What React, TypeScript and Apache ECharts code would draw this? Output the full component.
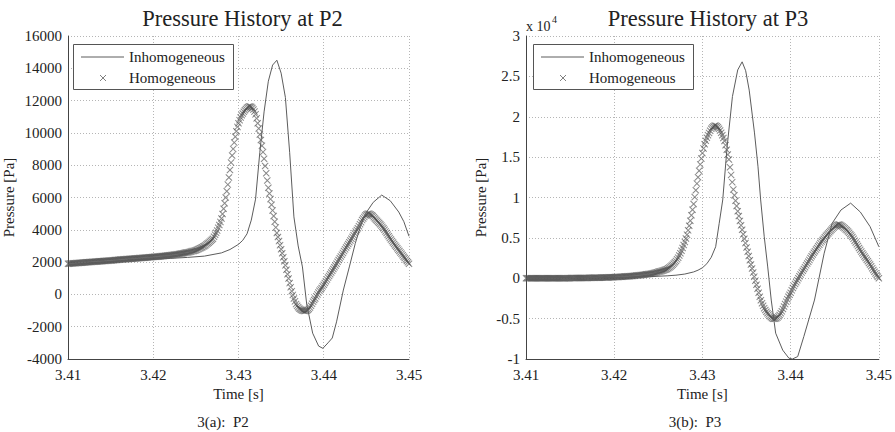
import { useEffect, useRef } from "react";
import * as echarts from "echarts";

const FONT = "'Liberation Serif', 'Times New Roman', serif";

// Time axis
const T_START = 3.41;
const T_END = 3.45;
const T_TICK = 0.01;
// Homogeneous runs are sampled every 0.125 ms from T_START
const T_STEP = 0.000125;

// P2 axis range [Pa]
const P2_MIN = -4000;
const P2_MAX = 16000;
const P2_TICK = 2000;

// P3 axis range [Pa], labelled in units of 10^4
const P3_MIN = -10000;
const P3_MAX = 30000;
const P3_TICK = 5000;

// Homogeneous pressure at P2 [Pa], one value per T_STEP
const HOMO_P2 = [
  1900, 1905, 1910, 1915, 1920, 1925, 1930, 1935, 1940, 1945, 1950, 1955, 1960, 1965, 1970, 1975,
  1980, 1985, 1990, 1995, 2000, 2005, 2010, 2015, 2020, 2025, 2030, 2035, 2040, 2045, 2050, 2055,
  2060, 2065, 2070, 2075, 2080, 2085, 2090, 2095, 2100, 2106, 2112, 2118, 2125, 2131, 2137, 2143,
  2150, 2155, 2160, 2165, 2170, 2175, 2180, 2185, 2190, 2195, 2200, 2205, 2210, 2215, 2220, 2225,
  2230, 2236, 2241, 2247, 2252, 2258, 2263, 2269, 2275, 2280, 2286, 2291, 2297, 2302, 2308, 2314,
  2320, 2326, 2332, 2338, 2345, 2351, 2357, 2363, 2370, 2377, 2385, 2392, 2400, 2407, 2415, 2422,
  2430, 2438, 2447, 2456, 2465, 2473, 2482, 2491, 2500, 2512, 2525, 2537, 2550, 2562, 2575, 2587,
  2600, 2615, 2630, 2647, 2665, 2680, 2695, 2712,
  2730, 2760, 2790, 2820, 2850, 2885, 2920, 2960,
  3000, 3050, 3100, 3150, 3200, 3260, 3320, 3380,
  3450, 3570, 3700, 3820, 3950, 4120, 4300, 4490,
  4700, 4980, 5300, 5640, 6000, 6390, 6800, 7240,
  7700, 8160, 8600, 9010, 9400, 9760, 10100, 10370,
  10600, 10790, 10950, 11090, 11200, 11310, 11400, 11480,
  11550, 11600, 11640, 11630, 11600, 11540, 11450, 11320,
  11150, 10900, 10600, 10270, 9900, 9560, 9200, 8810,
  8400, 7950, 7500, 7050, 6600, 6250, 5900, 5550,
  5200, 4850, 4500, 4150, 3800, 3550, 3300, 3050,
  2800, 2550, 2300, 2050, 1800, 1530, 1250, 980,
  700, 450, 200, -30, -250, -430, -600, -710,
  -800, -870, -920, -965, -1000, -1020, -1030, -1020,
  -1000, -960, -900, -810, -700, -580, -450, -350,
  -250, -120, 0, 110, 220, 310, 400, 500,
  600, 710, 820, 930, 1040, 1145, 1250, 1355,
  1460, 1570, 1680, 1790, 1900, 2015, 2130, 2240,
  2350, 2460, 2570, 2680, 2790, 2900, 3010, 3120,
  3230, 3340, 3450, 3560, 3670, 3780, 3890, 3995,
  4100, 4225, 4350, 4475, 4600, 4700, 4800, 4885,
  4950, 4985, 5000, 4985, 4950, 4905, 4850, 4780,
  4700, 4630, 4560, 4490, 4420, 4340, 4260, 4180,
  4100, 4000, 3900, 3800, 3700, 3600, 3500, 3400,
  3300, 3210, 3120, 3035, 2950, 2860, 2770, 2685,
  2600, 2510, 2420, 2335, 2250, 2160, 2070, 1985,
  1900,
];

// Homogeneous pressure at P3 [Pa], one value per T_STEP
const HOMO_P3 = [
  0, 0, 0, 0, 0, 0, 0, 0, 0, 0, 0, 0, 0, 0, 0, 0, 0, 0, 0, 0, 0, 0, 0, 0,
  0, 2, 5, 5, 5, 5, 5, 8, 10, 10, 10, 10, 10, 12, 15, 15, 15, 18, 20, 20, 20, 22, 25, 28,
  30, 30, 30, 32, 35, 38, 40, 42, 45, 48, 50, 52, 55, 58, 60, 62, 65, 68, 70, 75, 80, 82, 85, 90,
  95, 100, 105, 110, 115, 120, 125, 130, 135, 142, 150, 158, 165, 172, 180, 190, 200, 208, 215, 225, 235, 245, 255, 268,
  280, 290, 300, 315, 330, 345, 360, 375, 390, 405, 420, 440, 460, 480, 500, 520, 540, 565, 590, 615, 640, 670, 700, 750,
  800, 835, 870, 910, 950, 995, 1040, 1090, 1150, 1235, 1330, 1435, 1550, 1680, 1820, 1980, 2150, 2340, 2550, 2810, 3100, 3410, 3750, 4110,
  4500, 4930, 5400, 5930, 6500, 7130, 7800, 8490, 9200, 10050, 10900, 11720, 12500, 13320, 14100, 14820, 15500, 16080, 16600, 17030, 17400, 17720, 18000, 18270,
  18500, 18670, 18800, 18870, 18900, 18820, 18700, 18520, 18300, 18020, 17700, 17370, 17000, 16480, 15900, 15310, 14700, 13750, 12800, 11900, 11000, 10280, 9600, 8950,
  8300, 7700, 7100, 6550, 6000, 5450, 4900, 4350, 3800, 3270, 2750, 2220, 1700, 1200, 700, 200, -300, -800, -1300, -1800, -2300, -2720, -3100, -3420,
  -3700, -3940, -4150, -4340, -4500, -4660, -4800, -4920, -5000, -5020, -5000, -4940, -4850, -4720, -4550, -4340, -4100, -3810, -3500, -3200, -2900, -2600, -2300, -2050,
  -1800, -1500, -1200, -950, -700, -480, -250, 0, 250, 475, 700, 925, 1150, 1375, 1600, 1825, 2050, 2275, 2500, 2725, 2950, 3150, 3350, 3550,
  3750, 3950, 4150, 4350, 4550, 4730, 4900, 5080, 5250, 5400, 5550, 5700, 5850, 6000, 6150, 6280, 6400, 6510, 6600, 6640, 6650, 6590, 6500, 6410,
  6300, 6180, 6050, 5930, 5800, 5630, 5450, 5280, 5100, 4880, 4650, 4420, 4200, 3980, 3750, 3520, 3300, 3100, 2900, 2700, 2500, 2300, 2100, 1900,
  1700, 1480, 1250, 1030, 800, 600, 400, 200,
  0,
];

// Inhomogeneous pressure at P2: sample times [s] and pressures [Pa]
const INHOMO_P2_T = [
  3.41, 3.412, 3.414, 3.416, 3.418, 3.42, 3.422, 3.424, 3.426, 3.428,
  3.429, 3.43, 3.4305, 3.431, 3.4315, 3.432, 3.4325, 3.433, 3.4335, 3.434,
  3.4345, 3.435, 3.4355, 3.436, 3.4365, 3.437, 3.4375, 3.438, 3.4387, 3.4394,
  3.4399, 3.4405, 3.441, 3.4415, 3.4423, 3.443, 3.4437, 3.4443, 3.4449, 3.4458,
  3.4468, 3.4478, 3.4488, 3.4494, 3.45,
];
const INHOMO_P2_P = [
  1850, 1920, 1990, 2050, 2110, 2170, 2230, 2290, 2370, 2570,
  2780, 3100, 3350, 3750, 4600, 5900, 8800, 11300, 13200, 14200,
  14500, 13700, 12200, 8800, 4800, 3000, 1700, -600, -2400, -3200,
  -3340, -3000, -2700, -1700, 270, 1700, 3160, 4200, 5000, 5700,
  6150, 5800, 5100, 4500, 3600,
];

// Inhomogeneous pressure at P3: sample times [s] and pressures [Pa]
const INHOMO_P3_T = [
  3.41, 3.414, 3.418, 3.42, 3.422, 3.424, 3.426, 3.427, 3.428, 3.429,
  3.4295, 3.43, 3.4305, 3.431, 3.4315, 3.4319, 3.4323, 3.4328, 3.4334, 3.434,
  3.4345, 3.4349, 3.4353, 3.4359, 3.4363, 3.4366, 3.437, 3.4374, 3.4378, 3.4383,
  3.4391, 3.4398, 3.4402, 3.4408, 3.4415, 3.4427, 3.4438, 3.4447, 3.4457, 3.4468,
  3.4479, 3.449, 3.45,
];
const INHOMO_P3_P = [
  0, 20, 60, 100, 140, 200, 300, 380, 520, 780,
  1000, 1300, 1800, 2600, 3900, 6800, 9700, 16300, 22500, 25800,
  26800, 25700, 23300, 18000, 13800, 9700, 5200, 1400, -2700, -6800,
  -8900, -9900, -10000, -9700, -7200, -2700, 3100, 6800, 8450, 9300,
  8200, 6400, 3900,
];

const TITLES = ["Pressure History at P2", "Pressure History at P3"];
const CAPTIONS = ["3(a):\u00a0 P2", "3(b):\u00a0 P3"];
const SERIES_NAMES = ["Inhomogeneous", "Homogeneous"];
const X_NAME = "Time [s]";
const Y_NAME = "Pressure [Pa]";

const LINE_COLOR = "#5c5c5c";
const MARK_COLOR = "rgba(80,80,80,0.68)";
const TEXT_COLOR = "#222222";
const X_SYMBOL =
  "path://M0,1 L1,0 L5,4 L9,0 L10,1 L6,5 L10,9 L9,10 L5,6 L1,10 L0,9 L4,5 Z";

const sampled = (values: number[]) =>
  values.map((p, i) => [+(T_START + i * T_STEP).toFixed(6), p]);
const paired = (ts: number[], ps: number[]) => ts.map((t, i) => [t, ps[i]]);

// Plot rectangles of the two panels
const PANELS = [
  { left: 66, top: 36, width: 343, height: 323, legendX: 73, caption: 223, yName: 52 },
  { left: 526, top: 36, width: 354, height: 323, legendX: 533, caption: 695, yName: 38 },
];

const TICK_SIZE = 15;
const NAME_SIZE = 15;
const LEGEND_SIZE = 15;
const TITLE_SIZE = 22.5;
const CAPTION_SIZE = 15;

function legendBox(x0: number) {
  const rowA = 57;
  const rowB = 78;
  const mx = x0 + 30;
  const text = (label: string, y: number) => ({
    type: "text",
    z: 101,
    x: x0 + 56,
    y,
    style: {
      text: label,
      fill: TEXT_COLOR,
      fontSize: LEGEND_SIZE,
      fontFamily: FONT,
      verticalAlign: "middle",
      align: "left",
    },
  });
  return [
    {
      type: "rect",
      z: 100,
      shape: { x: x0 + 0.5, y: 44.5, width: 160, height: 45 },
      style: { fill: "#ffffff", stroke: "#555555", lineWidth: 1 },
    },
    {
      type: "line",
      z: 101,
      shape: { x1: x0 + 8, y1: rowA, x2: x0 + 51, y2: rowA },
      style: { stroke: LINE_COLOR, lineWidth: 1 },
    },
    {
      type: "line",
      z: 101,
      shape: { x1: mx - 3, y1: rowB - 3, x2: mx + 3, y2: rowB + 3 },
      style: { stroke: "#808080", lineWidth: 1 },
    },
    {
      type: "line",
      z: 101,
      shape: { x1: mx - 3, y1: rowB + 3, x2: mx + 3, y2: rowB - 3 },
      style: { stroke: "#808080", lineWidth: 1 },
    },
    text(SERIES_NAMES[0], rowA),
    text(SERIES_NAMES[1], rowB),
  ];
}

export default function App() {
  const ref = useRef<HTMLDivElement>(null);

  useEffect(() => {
    if (!ref.current) return;
    const chart = echarts.init(ref.current, undefined, { renderer: "svg" });

    const splitLine = {
      show: true,
      lineStyle: { color: "#b5b5b5", width: 1, type: [1, 2] },
    };
    const axisLine = {
      show: true,
      onZero: false,
      lineStyle: { color: "#444444", width: 1 },
    };
    const tickStyle = { fontSize: TICK_SIZE, color: TEXT_COLOR, fontFamily: FONT };
    const nameStyle = { fontSize: NAME_SIZE, color: TEXT_COLOR, fontFamily: FONT };

    const xAxis = PANELS.map((_, i) => ({
      type: "value",
      gridIndex: i,
      min: T_START,
      max: T_END,
      interval: T_TICK,
      name: X_NAME,
      nameLocation: "middle",
      nameGap: 27,
      nameTextStyle: nameStyle,
      axisLine,
      axisTick: { show: false },
      axisLabel: { ...tickStyle, margin: 8, formatter: (v: number) => v.toFixed(2) },
      splitLine,
    }));

    const yAxis = [
      {
        type: "value",
        gridIndex: 0,
        min: P2_MIN,
        max: P2_MAX,
        interval: P2_TICK,
        name: Y_NAME,
        nameLocation: "middle",
        nameGap: PANELS[0].yName,
        nameTextStyle: nameStyle,
        axisLine,
        axisTick: { show: false },
        axisLabel: { ...tickStyle, margin: 6, formatter: (v: number) => String(v) },
        splitLine,
      },
      {
        type: "value",
        gridIndex: 1,
        min: P3_MIN,
        max: P3_MAX,
        interval: P3_TICK,
        name: Y_NAME,
        nameLocation: "middle",
        nameGap: PANELS[1].yName,
        nameTextStyle: nameStyle,
        axisLine,
        axisTick: { show: false },
        axisLabel: {
          ...tickStyle,
          margin: 6,
          formatter: (v: number) => String(+(v / 10000).toFixed(2)),
        },
        splitLine,
      },
    ];

    const lineSeries = (idx: number, data: number[][]) => ({
      type: "line",
      name: SERIES_NAMES[0],
      xAxisIndex: idx,
      yAxisIndex: idx,
      data,
      showSymbol: false,
      symbol: "none",
      lineStyle: { color: LINE_COLOR, width: 1 },
      z: 3,
    });
    const markSeries = (idx: number, data: number[][]) => ({
      type: "line",
      name: SERIES_NAMES[1],
      xAxisIndex: idx,
      yAxisIndex: idx,
      data,
      showSymbol: true,
      symbol: X_SYMBOL,
      symbolSize: 7,
      itemStyle: { color: MARK_COLOR },
      lineStyle: { width: 0, opacity: 0 },
      z: 2,
    });

    const graphic: any[] = [];
    PANELS.forEach((p, i) => {
      graphic.push({
        type: "text",
        x: p.caption,
        y: 422,
        style: {
          text: CAPTIONS[i],
          fill: TEXT_COLOR,
          fontSize: CAPTION_SIZE,
          fontFamily: FONT,
          align: "center",
          verticalAlign: "middle",
        },
      });
      graphic.push(...legendBox(p.legendX));
    });
    // Exponent of the P3 pressure scale
    graphic.push({
      type: "text",
      x: 526,
      y: 26,
      style: {
        text: "x 10",
        fill: TEXT_COLOR,
        fontSize: 14,
        fontFamily: FONT,
        align: "left",
        verticalAlign: "middle",
      },
    });
    graphic.push({
      type: "text",
      x: 552,
      y: 19,
      style: {
        text: "4",
        fill: TEXT_COLOR,
        fontSize: 10,
        fontFamily: FONT,
        align: "left",
        verticalAlign: "middle",
      },
    });

    chart.setOption({
      animation: false,
      backgroundColor: "#ffffff",
      textStyle: { fontFamily: FONT },
      title: PANELS.map((p, i) => ({
        text: TITLES[i],
        left: p.left + p.width / 2,
        top: 2,
        textAlign: "center",
        textStyle: {
          fontSize: TITLE_SIZE,
          fontWeight: "normal",
          color: TEXT_COLOR,
          fontFamily: FONT,
        },
      })),
      grid: PANELS.map((p) => ({
        left: p.left,
        top: p.top,
        width: p.width,
        height: p.height,
        containLabel: false,
      })),
      xAxis,
      yAxis,
      series: [
        lineSeries(0, paired(INHOMO_P2_T, INHOMO_P2_P)),
        markSeries(0, sampled(HOMO_P2)),
        lineSeries(1, paired(INHOMO_P3_T, INHOMO_P3_P)),
        markSeries(1, sampled(HOMO_P3)),
      ],
      graphic,
    });

    return () => chart.dispose();
  }, []);

  return (
    <div
      ref={ref}
      style={{ position: "absolute", left: 0, top: 0, width: 895, height: 432 }}
    />
  );
}
